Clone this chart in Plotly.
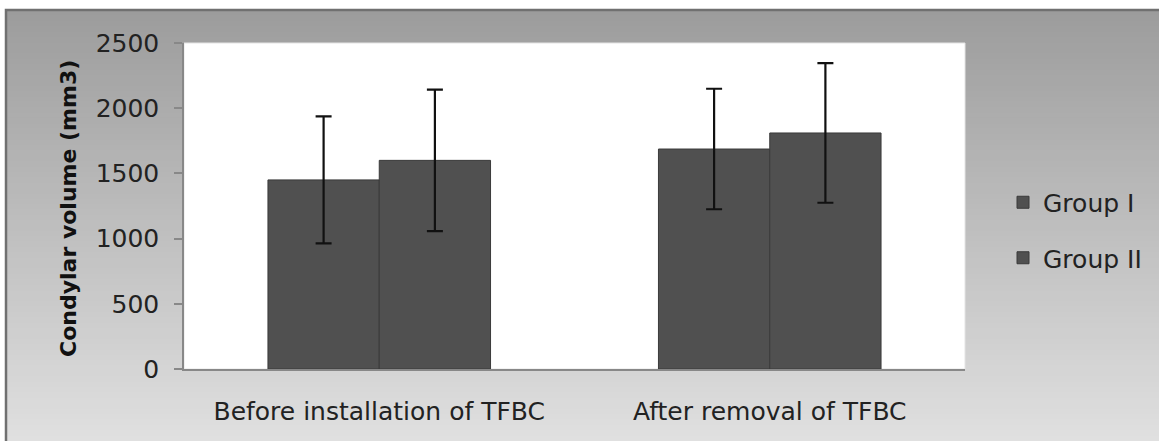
import plotly.graph_objects as go

# ---- data ----
categories = ["Before installation of TFBC", "After removal of TFBC"]
group1_mean = [1450, 1687]
group1_sd = [487, 462]
group2_mean = [1600, 1810]
group2_sd = [543, 535]
series_names = ["Group I", "Group II"]
y_ticks = [0, 500, 1000, 1500, 2000, 2500]
y_title = "Condylar volume (mm3)"

# ---- layout geometry (pixels) ----
W, H = 1159, 441
ML, MR, MT, MB = 184, 194, 43, 72
PW, PH = W - ML - MR, H - MT - MB


def px(x):
    return (x - ML) / PW


def py(y):
    return (H - MB - y) / PH


BAR_COLOR = "#505050"
FONT = "DejaVu Sans"

fig = go.Figure()
for name, mean, sd in [(series_names[0], group1_mean, group1_sd),
                       (series_names[1], group2_mean, group2_sd)]:
    fig.add_trace(go.Bar(
        x=categories, y=mean, name=name, legendgroup=name,
        marker=dict(color=BAR_COLOR, line=dict(color="#3a3a3a", width=1)),
        error_y=dict(type="data", array=sd, visible=True, color="#111111",
                     thickness=2.2, width=8),
    ))

# background gradient (vertical) as bands
shapes = []
N = 80
top, bot = 10, H
c0, c1 = 156, 224
for i in range(N):
    y0 = top + (bot - top) * i / N
    y1 = top + (bot - top) * (i + 1) / N + 1
    t = (i + 0.5) / N
    c = int(round(c0 + (c1 - c0) * t))
    shapes.append(dict(type="rect", xref="paper", yref="paper", layer="below",
                       x0=px(6), x1=px(W + 10), y0=py(y1), y1=py(y0),
                       fillcolor=f"rgb({c},{c},{c})", line=dict(width=0)))
# outer frame (top & left visible)
shapes.append(dict(type="rect", xref="paper", yref="paper", layer="below",
                   x0=px(6), x1=px(W + 20), y0=py(H + 20), y1=py(10),
                   fillcolor="rgba(0,0,0,0)", line=dict(color="#707070", width=2.5)))
# white plot area
shapes.append(dict(type="rect", xref="paper", yref="paper", layer="below",
                   x0=0, x1=1, y0=0, y1=1, fillcolor="white",
                   line=dict(color="#e4e4e4", width=1)))

fig.update_layout(
    width=W, height=H, autosize=False,
    margin=dict(l=ML, r=MR, t=MT, b=MB, pad=0),
    paper_bgcolor="white", plot_bgcolor="white",
    font=dict(family=FONT, size=25, color="#222222"),
    barmode="group", bargap=0.43, bargroupgap=0,
    shapes=shapes,
    showlegend=True,
    legend=dict(x=px(1003), xanchor="left", y=py(230), yanchor="middle",
                bgcolor="rgba(0,0,0,0)", traceorder="grouped", tracegroupgap=20,
                font=dict(family=FONT, size=25, color="#222222")),
    annotations=[dict(text=y_title, textangle=-90, xref="paper", yref="paper",
                      x=px(68), y=py(208), xanchor="center", yanchor="middle",
                      showarrow=False,
                      font=dict(family=FONT, size=22, color="#111111", weight="bold"))],
)
fig.update_yaxes(range=[0, 2500], tickvals=y_ticks, showgrid=False, zeroline=False,
                 showline=True, linecolor="#888888", linewidth=1.5,
                 ticks="outside", ticklen=8, tickcolor="#888888", tickwidth=1.5,
                 ticklabelstandoff=10,
                 tickfont=dict(family=FONT, size=25, color="#222222"))
fig.update_xaxes(showgrid=False, zeroline=False, showline=True, linecolor="#888888",
                 linewidth=1.5, ticks="", ticklabelstandoff=19,
                 tickfont=dict(family=FONT, size=25, color="#222222"))

fig.write_html("out.html", config={"displayModeBar": False},
               post_script="document.body.style.margin='0';document.body.style.overflow='hidden';")
